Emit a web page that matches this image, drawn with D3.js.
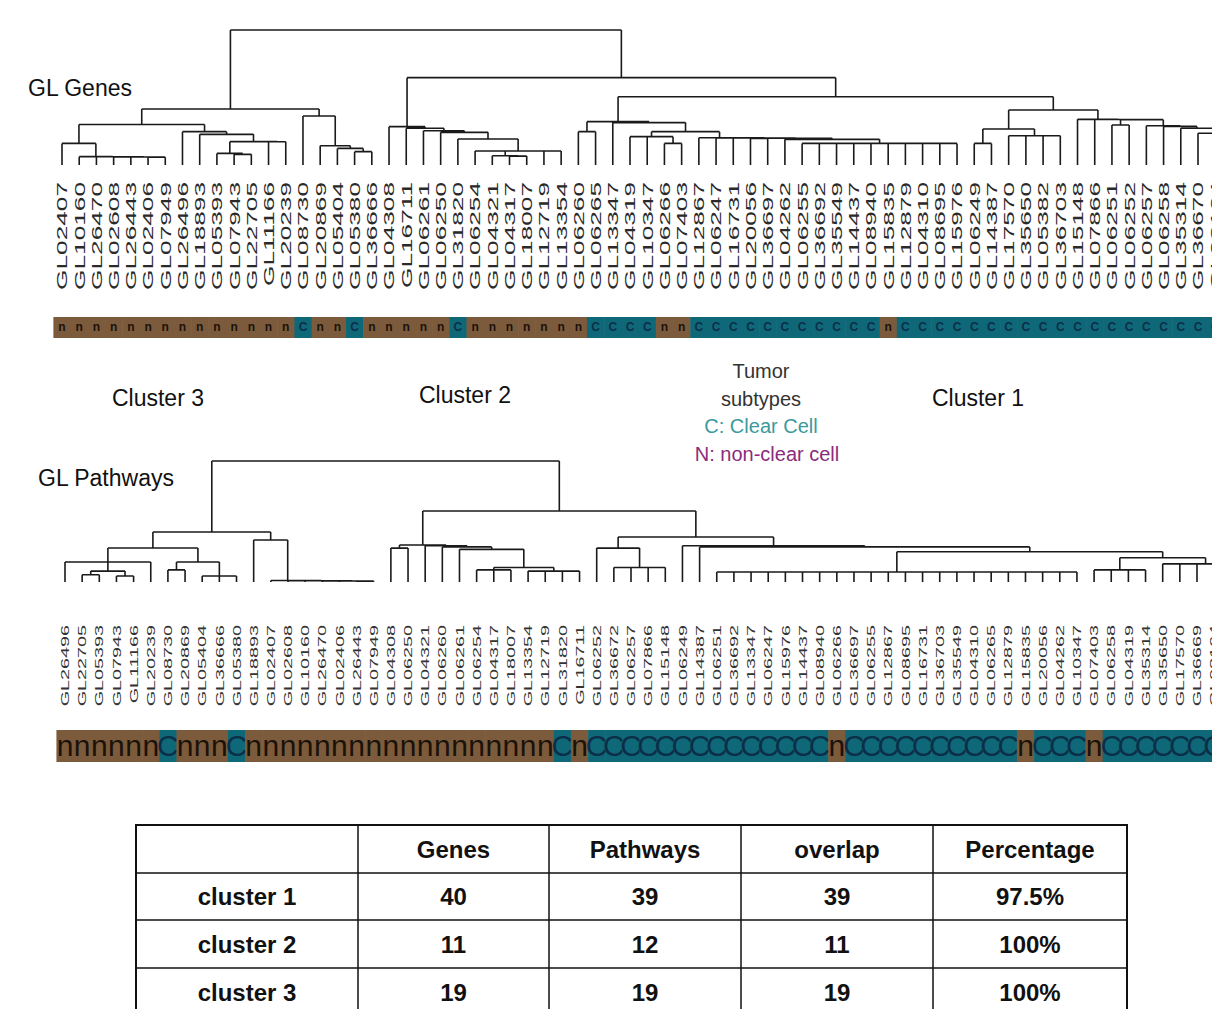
<!DOCTYPE html>
<html>
<head>
<meta charset="utf-8">
<script src="https://cdn.jsdelivr.net/npm/d3@7"></script>
<style>
  body { margin: 0; background: #fff; }
  svg { display: block; }
</style>
</head>
<body>
<div id="canvas"></div>
<script>
"use strict";

let svgWidth = 1212;
let svgHeight = 1009;

/* ---------------- DATA ---------------- */

// leaf order, gene dendrogram
let geneLeaves = [
    "GL02407", "GL10160", "GL26470", "GL02608", "GL26443", "GL02406", "GL07949", "GL26496",
    "GL18893", "GL05393", "GL07943", "GL22705", "GL11166", "GL20239", "GL08730", "GL20869",
    "GL05404", "GL05380", "GL36666", "GL04308", "GL16711", "GL06261", "GL06250", "GL31820",
    "GL06254", "GL04321", "GL04317", "GL18007", "GL12719", "GL13354", "GL06260", "GL06265",
    "GL13347", "GL04319", "GL10347", "GL06266", "GL07403", "GL12867", "GL06247", "GL16731",
    "GL20056", "GL36697", "GL04262", "GL06255", "GL36692", "GL35549", "GL14437", "GL08940",
    "GL15835", "GL12879", "GL04310", "GL08695", "GL15976", "GL06249", "GL14387", "GL17570",
    "GL35650", "GL05382", "GL36703", "GL15148", "GL07866", "GL06251", "GL06252", "GL06257",
    "GL06258", "GL35314", "GL36670", "GL03164"
];

// leaf order, pathway dendrogram
let pathwayLeaves = [
    "GL26496", "GL22705", "GL05393", "GL07943", "GL11166", "GL20239", "GL08730", "GL20869",
    "GL05404", "GL36666", "GL05380", "GL18893", "GL02407", "GL02608", "GL10160", "GL26470",
    "GL02406", "GL26443", "GL07949", "GL04308", "GL06250", "GL04321", "GL06260", "GL06261",
    "GL06254", "GL04317", "GL18007", "GL13354", "GL12719", "GL31820", "GL16711", "GL06252",
    "GL36672", "GL06257", "GL07866", "GL15148", "GL06249", "GL14387", "GL06251", "GL36692",
    "GL13347", "GL06247", "GL15976", "GL14437", "GL08940", "GL06266", "GL36697", "GL06255",
    "GL12867", "GL08695", "GL16731", "GL36703", "GL35549", "GL04310", "GL06265", "GL12879",
    "GL15835", "GL20056", "GL04262", "GL10347", "GL07403", "GL06258", "GL04319", "GL35314",
    "GL35650", "GL17570", "GL36669", "GL03164"
];

// non-clear cell tumours, all other samples are clear cell
let nonClearSamples = [
    "GL02407", "GL10160", "GL26470", "GL02608", "GL26443", "GL02406", "GL07949", "GL26496",
    "GL18893", "GL05393", "GL07943", "GL22705", "GL11166", "GL20239", "GL20869", "GL05404",
    "GL36666", "GL04308", "GL16711", "GL06261", "GL06250", "GL06254", "GL04321", "GL04317",
    "GL18007", "GL12719", "GL13354", "GL06260", "GL06266", "GL07403", "GL15835"
];

// dendrogram nodes: [merge height, child, child, ...], a number = leaf index

// gene tree, cluster 3
let gA11 = [0.160, 0, [0.062, 1, [0.061, 2, [0.060, 3, [0.059, 4, [0.058, 5, 6]]]]]];
let gA12 = [0.247, 7, [0.227, 8, [0.173, [0.086, 9, [0.079, 10, 11]], [0.172, 12, 13]]]];
let gA2 = [0.363, 14, [0.143, 15, [0.123, 16, [0.099, 17, 18]]]];
let geneCluster3 = [0.415, [0.300, gA11, gA12], gA2];

// gene tree, cluster 2
let geneCluster2 = [0.284, 19, [0.272, 20, [0.254, 21, [0.242, 22, [0.193, 23,
    [0.104, 24, [0.069, 25, [0.066, 26, 27]], 28, 29]]]]]];

// gene tree, cluster 1
let gH = [0.210, 33, 34, [0.160, 35, 36]];
let gI = [0.202, 37, [0.201, 38, [0.200, 39, [0.198, [0.197, 40, 41],
    [0.190, 42, [0.160, 43, 44, 45, 46, 47, 48, 49, 50, 51, 52]]]]]];
let gE = [0.321, [0.247, 30, 31], [0.314, 32, [0.247, gH, gI]]];
let gJ1 = [0.267, [0.160, 53, 54], [0.217, 55, 56, 57, 58]];
let gK = [0.291, 63, [0.286, 64, [0.272, 65, [0.235, 66, [0.220, 67, [0.200, 68, 69]]]]]];
let gJ2 = [0.338, 59, [0.337, 60, [0.336, [0.296, 61, 62], gK]]];
let geneCluster1 = [0.506, gE, [0.407, gJ1, gJ2]];

let geneTree = [1, geneCluster3, [0.647, geneCluster2, geneCluster1]];

// pathway tree, cluster 3
let pL1 = [0.281, [0.165, 0, [0.090, [0.060, 1, 2], [0.050, 3, 4]], 5],
    [0.165, [0.100, 6, 7], [0.050, 8, 9, 10]]];
let pL2 = [0.347, 11, [0.012, 12, [0.011, 13, [0.010, 14, [0.009, 15, [0.008, 16, [0.007, 17, 18]]]]]]];
let pathwayCluster3 = [0.413, pL1, pL2];

// pathway tree, cluster 2
let pathwayCluster2 = [0.306, [0.280, 19, 20], [0.300, 21, [0.290, 22, [0.270, 23,
    [0.120, [0.100, 24, 25, 26], [0.090, 27, 28, 29, 30]]]]]];

// pathway tree, cluster 1
let pR21 = [0.280, 31, [0.120, 32, 33, 34, 35]];
let pR22 = [0.300, 36, [0.290, 37, [0.250,
    [0.083, 38, 39, 40, 41, 42, 43, 44, 45, 46, 47, 48, 49, 50, 51, 52, 53, 54, 55, 56, 57, 58, 59],
    [0.200, [0.100, 60, 61, 62, 63], [0.150, 64, 65, 66, 67, 68, 69]]]]];
let pathwayCluster1 = [0.372, pR21, pR22];

let pathwayTree = [1, pathwayCluster3, [0.587, pathwayCluster2, pathwayCluster1]];

// summary table
let tableHeaders = ["", "Genes", "Pathways", "overlap", "Percentage"];
let clusterNames = ["cluster 1", "cluster 2", "cluster 3"];
let genesCount = [40, 11, 19];
let pathwaysCount = [39, 12, 19];
let overlapCount = [39, 11, 19];

/* ---------------- SVG ---------------- */

let svg = d3.select("#canvas")
    .append("svg")
    .attr("width", svgWidth)
    .attr("height", svgHeight)
    .style("font-family", "'Liberation Sans', Arial, sans-serif");

let brown = "#7c5b3c";
let teal = "#0f6878";

let geneX = d3.scaleLinear().domain([0, 66]).range([62, 1198]);
let pathwayX = d3.scaleLinear().domain([0, 66]).range([65, 1197]);

let geneY = d3.scaleLinear().domain([0, 1]).range([165, 30]);
let pathwayY = d3.scaleLinear().domain([0, 1]).range([582, 461]);

/* ---------------- DENDROGRAM ---------------- */

function drawTree(tree, xScale, yScale) {

    let p = d3.path();
    let tipY = yScale(0);

    function place(node) {
        if (typeof node === "number") {
            return { x: xScale(node), y: tipY };
        }
        let y = yScale(node[0]);
        let kids = node.slice(1).map(place);
        let x0 = kids[0].x;
        let x1 = kids[kids.length - 1].x;
        p.moveTo(x0, y);
        p.lineTo(x1, y);
        kids.forEach(function (k) {
            p.moveTo(k.x, y);
            p.lineTo(k.x, k.y);
        });
        return { x: (x0 + x1) / 2, y: y };
    }

    place(tree);

    svg.append("path")
        .attr("d", p.toString())
        .attr("fill", "none")
        .attr("stroke", "#1a1a1a")
        .attr("stroke-width", 1.6);
}

/* ---------------- LEAF LABELS ---------------- */

function drawLabels(names, xScale, yTop, size, stretch, color) {
    svg.append("g")
        .selectAll("text")
        .data(names)
        .join("text")
        .attr("transform", function (d, i) {
            return "translate(" + xScale(i) + "," + yTop + ") rotate(-90) scale(" + stretch + ",1)";
        })
        .attr("text-anchor", "end")
        .attr("dy", "0.36em")
        .attr("font-size", size)
        .attr("fill", color)
        .text(function (d) { return d; });
}

/* ---------------- SUBTYPE BAR ---------------- */

function drawBar(names, xScale, y, h, size, bold) {
    let w = xScale(1) - xScale(0);
    let g = svg.append("g");

    let cells = g.selectAll("g")
        .data(names)
        .join("g");

    cells.append("rect")
        .attr("x", function (d, i) { return xScale(i) - w / 2; })
        .attr("y", y)
        .attr("width", w + 0.6)
        .attr("height", h)
        .attr("fill", function (d) { return nonClearSamples.includes(d) ? brown : teal; });

    cells.append("text")
        .attr("x", function (d, i) { return xScale(i); })
        .attr("y", y + h / 2)
        .attr("dy", "0.32em")
        .attr("text-anchor", "middle")
        .attr("font-size", size)
        .attr("font-weight", bold ? "bold" : "normal")
        .attr("fill", function (d) { return nonClearSamples.includes(d) ? "#1b120a" : "#0b2f48"; })
        .text(function (d) { return nonClearSamples.includes(d) ? "n" : "C"; });
}

/* ---------------- DRAW ---------------- */

drawTree(geneTree, geneX, geneY);
drawLabels(geneLeaves, geneX, 182, 15, 1.75, "#2a2a2a");
drawBar(geneLeaves, geneX, 317, 21, 12, true);

drawTree(pathwayTree, pathwayX, pathwayY);
drawLabels(pathwayLeaves, pathwayX, 625, 11.5, 1.72, "#333");
drawBar(pathwayLeaves, pathwayX, 730, 32, 30, false);

// titles and cluster names
let titles = [
    { t: "GL Genes", x: 28, y: 96, a: "start" },
    { t: "GL Pathways", x: 38, y: 486, a: "start" },
    { t: "Cluster 3", x: 158, y: 406, a: "middle" },
    { t: "Cluster 2", x: 465, y: 403, a: "middle" },
    { t: "Cluster 1", x: 978, y: 406, a: "middle" }
];

svg.append("g")
    .selectAll("text")
    .data(titles)
    .join("text")
    .attr("x", function (d) { return d.x; })
    .attr("y", function (d) { return d.y; })
    .attr("text-anchor", function (d) { return d.a; })
    .attr("font-size", 23)
    .attr("fill", "#111")
    .text(function (d) { return d.t; });

// legend
let legend = [
    { t: "Tumor", y: 378, c: "#333" },
    { t: "subtypes", y: 406, c: "#333" },
    { t: "C: Clear Cell", y: 433, c: "#3a9a9c" },
    { t: "N: non-clear cell", y: 461, c: "#8a2c7c" }
];

svg.append("g")
    .selectAll("text")
    .data(legend)
    .join("text")
    .attr("x", function (d, i) { return i === 3 ? 767 : 761; })
    .attr("y", function (d) { return d.y; })
    .attr("text-anchor", "middle")
    .attr("font-size", 20)
    .attr("fill", function (d) { return d.c; })
    .text(function (d) { return d.t; });

/* ---------------- TABLE ---------------- */

let colEdges = [136, 358, 549, 741, 933, 1127];
let rowEdges = [825, 873, 920, 968, 1016];
let pct = d3.format(".1~%");

let tableRows = clusterNames.map(function (name, i) {
    return [name, genesCount[i], pathwaysCount[i], overlapCount[i], pct(overlapCount[i] / genesCount[i])];
});
let allRows = [tableHeaders].concat(tableRows);

let table = svg.append("g");

table.append("rect")
    .attr("x", colEdges[0])
    .attr("y", rowEdges[0])
    .attr("width", colEdges[5] - colEdges[0])
    .attr("height", rowEdges[4] - rowEdges[0])
    .attr("fill", "none")
    .attr("stroke", "#111")
    .attr("stroke-width", 2);

colEdges.slice(1, 5).forEach(function (x) {
    table.append("line")
        .attr("x1", x).attr("x2", x)
        .attr("y1", rowEdges[0]).attr("y2", rowEdges[4])
        .attr("stroke", "#111").attr("stroke-width", 1.5);
});

rowEdges.slice(1, 4).forEach(function (y) {
    table.append("line")
        .attr("x1", colEdges[0]).attr("x2", colEdges[5])
        .attr("y1", y).attr("y2", y)
        .attr("stroke", "#111").attr("stroke-width", 1.5);
});

allRows.forEach(function (row, r) {
    row.forEach(function (val, c) {
        table.append("text")
            .attr("x", (colEdges[c] + colEdges[c + 1]) / 2)
            .attr("y", (rowEdges[r] + rowEdges[r + 1]) / 2)
            .attr("dy", "0.36em")
            .attr("text-anchor", "middle")
            .attr("font-size", 24)
            .attr("font-weight", "bold")
            .attr("fill", "#111")
            .text(val);
    });
});
</script>
</body>
</html>
